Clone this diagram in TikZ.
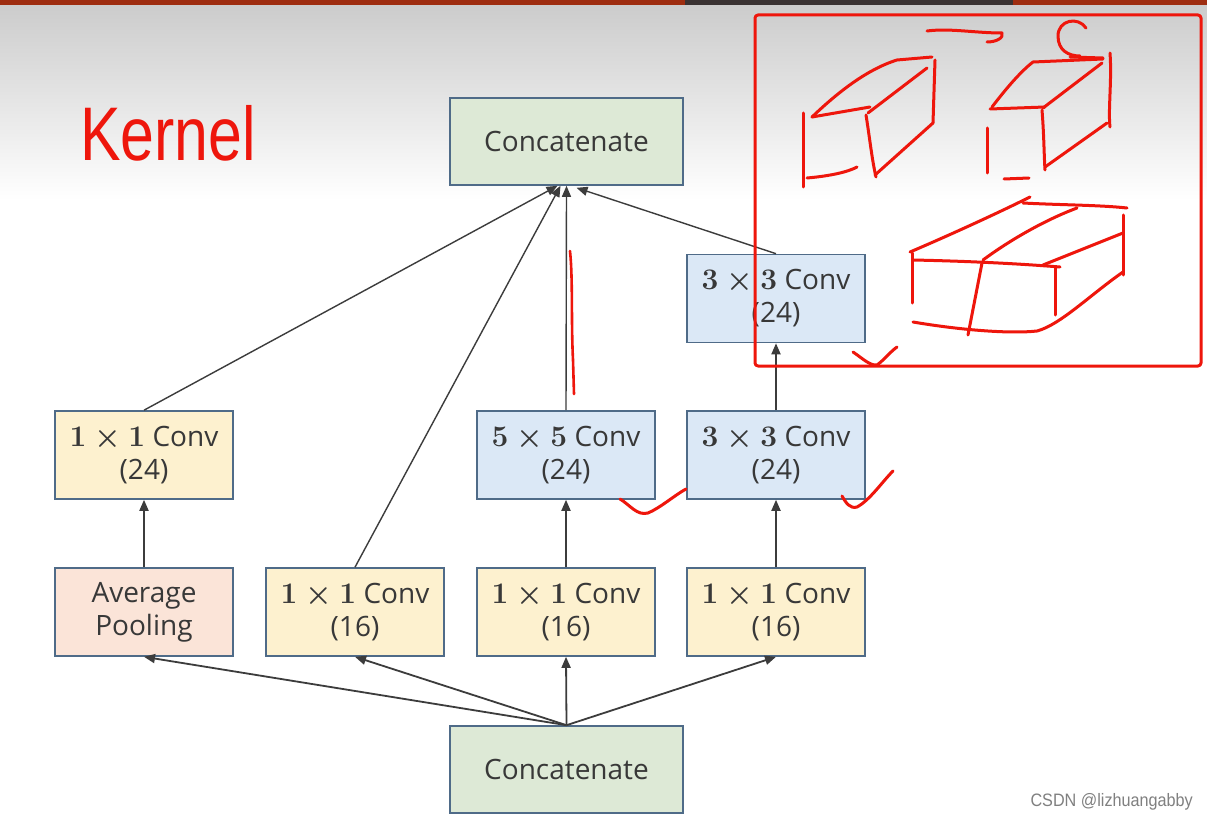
\documentclass[tikz,border=0pt]{standalone}
\usepackage{graphicx}
\usepackage[no-math]{fontspec}
\setmainfont{Open Sans}
\newfontfamily\handfont{Liberation Sans}
\usetikzlibrary{arrows.meta,calc}
\definecolor{bord}{HTML}{4F6B88}
\definecolor{txt}{HTML}{383838}
\definecolor{arrc}{HTML}{3C3C3C}
\definecolor{cgreen}{HTML}{DDE9D6}
\definecolor{cyellow}{HTML}{FDF1CF}
\definecolor{cpink}{HTML}{FBE4D8}
\definecolor{cblue}{HTML}{DBE8F6}
\definecolor{pen}{RGB}{238,22,12}
\definecolor{barred}{HTML}{9E2D10}
\definecolor{bardark}{HTML}{3A3232}
\newcommand\kxk[1]{\scalebox{1.2}{$\mathbf{#1}\times\mathbf{#1}$}}
\tikzset{
  box/.style={draw=bord, line width=1.6pt, minimum width=178pt, minimum height=88pt,
    inner sep=0pt, align=center, text=txt, font=\fontsize{28}{33}\selectfont\boldmath},
  catbox/.style={box, minimum width=233pt, minimum height=87pt, fill=cgreen},
  ybox/.style={box, fill=cyellow},
  pbox/.style={box, fill=cpink},
  bbox/.style={box, fill=cblue},
  arr/.style={-{Triangle[length=11pt,width=9pt]}, line width=1.8pt, draw=arrc},
  tarr/.style={arr, line width=1.4pt},
  penline/.style={draw=pen, line width=3pt, line cap=round, line join=round}
}
\begin{document}
\begin{tikzpicture}[x=1pt,y=-1pt]
\useasboundingbox (0,0) rectangle (1207,821);
% background
\fill[white] (0,0) rectangle (1207,821);
\shade[top color=black!20, bottom color=white] (0,5) rectangle (1207,200);
\fill[barred] (0,0) rectangle (1207,5);
\fill[bardark] (685,0) rectangle (1013,5);

% nodes
\node[catbox] (topcat) at (566.5,141.5) {Concatenate};
\node[catbox] (botcat) at (566.5,769.5) {Concatenate};
\node[bbox] (c33b) at (776,298.5) {\kxk{3} Conv\\(24)};
\node[ybox] (c11a) at (144,455) {\kxk{1} Conv\\(24)};
\node[bbox] (c55) at (566,455) {\kxk{5} Conv\\(24)};
\node[bbox] (c33a) at (776,455) {\kxk{3} Conv\\(24)};
\node[pbox] (pool) at (144,612) {Average\\Pooling};
\node[ybox] (c11b) at (355,612) {\kxk{1} Conv\\(16)};
\node[ybox] (c11c) at (566,612) {\kxk{1} Conv\\(16)};
\node[ybox] (c11d) at (776,612) {\kxk{1} Conv\\(16)};

% connectors to top concatenate
\draw[tarr] (c11a.north) -- ([xshift=-9pt]topcat.south);
\draw[tarr] (c11b.north) -- ([xshift=-6pt]topcat.south);
\draw[tarr] (c55.north) -- (topcat.south);
\draw[tarr] (c33b.north) -- ([xshift=10pt,yshift=-2pt]topcat.south);
% inner arrows
\draw[arr] (pool.north) -- (c11a.south);
\draw[arr] (c11c.north) -- (c55.south);
\draw[arr] (c11d.north) -- (c33a.south);
\draw[arr] (c33a.north) -- (c33b.south);
% from bottom concatenate
\draw[arr] (botcat.north) -- (pool.south);
\draw[arr] (botcat.north) -- (c11b.south);
\draw[arr] (botcat.north) -- (c11c.south);
\draw[arr] (botcat.north) -- (c11d.south);

% handwriting: Kernel
\node[text=pen, font=\handfont\fontsize{76}{76}\selectfont, xscale=0.8, anchor=west, inner sep=0pt] (kern) at (80,133) {Kernel};

% red frame
\draw[penline, rounded corners=3pt] (755,15) rectangle (1201,366);

% arrow sketch
\draw[penline] (927,31) .. controls (950,28) and (975,33) .. (1002,33) .. controls (1004,38) and (996,42) .. (987,42);
% C sketch
\draw[penline] (1086,28) .. controls (1078,16) and (1058,20) .. (1058,36) .. controls (1058,50) and (1068,56) .. (1080,56);
\draw[penline] (1070,57) -- (1103,58);

% left small box
\draw[penline] (812,117) .. controls (835,95) and (865,70) .. (897,60) -- (932,57);
\draw[penline] (812,117) -- (870,107);
\draw[penline] (868,113) -- (927,68);
\draw[penline] (935,60) -- (933,123);
\draw[penline] (933,123) -- (875,175);
\draw[penline] (866,115) .. controls (870,140) and (872,160) .. (876,177);
\draw[penline] (803,113) -- (803,187);
\draw[penline] (807,178) .. controls (830,176) and (848,172) .. (857,167);

% right small box
\draw[penline] (992,107) .. controls (1005,90) and (1020,72) .. (1033,62) -- (1103,59);
\draw[penline] (1110,53) .. controls (1112,80) and (1108,110) .. (1110,127);
\draw[penline] (1043,108) -- (1102,63);
\draw[penline] (990,109) -- (1045,107);
\draw[penline] (1042,110) .. controls (1044,135) and (1044,155) .. (1045,170);
\draw[penline] (1045,167) -- (1107,123);
\draw[penline] (987,128) -- (987,173);
\draw[penline] (1004,179) -- (1029,178);

% large box
\draw[penline] (910,252) .. controls (950,235) and (1000,212) .. (1030,197);
\draw[penline] (1023,203) .. controls (1060,205) and (1100,205) .. (1127,208);
\draw[penline] (913,260) .. controls (960,261) and (1010,263) .. (1060,267);
\draw[penline] (983,260) .. controls (1010,240) and (1045,220) .. (1077,208);
\draw[penline] (1043,265) -- (1123,233);
\draw[penline] (1123,215) -- (1123,275);
\draw[penline] (912,253) -- (912,303);
\draw[penline] (982,263) -- (968,335);
\draw[penline] (1055,267) -- (1055,315);
\draw[penline] (913,322) .. controls (960,330) and (1010,334) .. (1037,331) .. controls (1060,325) and (1090,295) .. (1123,272);

% check marks
\draw[penline] (853,352) .. controls (862,358) and (870,366) .. (877,365) .. controls (884,360) and (890,352) .. (897,347);
\draw[penline] (620,499) .. controls (630,505) and (637,516) .. (648,513) .. controls (660,508) and (675,495) .. (686,489);
\draw[penline] (842,496) .. controls (846,503) and (850,509) .. (857,507) .. controls (870,500) and (882,482) .. (893,471);

% vertical red line
\draw[penline, line width=2.6pt] (570,251) .. controls (573,280) and (571,320) .. (573,360) -- (574,394);

% watermark
\node[text=black!50, font=\handfont\fontsize{18}{18}\selectfont, xscale=0.9, anchor=east, inner sep=0pt] (wm) at (1193,802) {CSDN @lizhuangabby};
\end{tikzpicture}
\end{document}
